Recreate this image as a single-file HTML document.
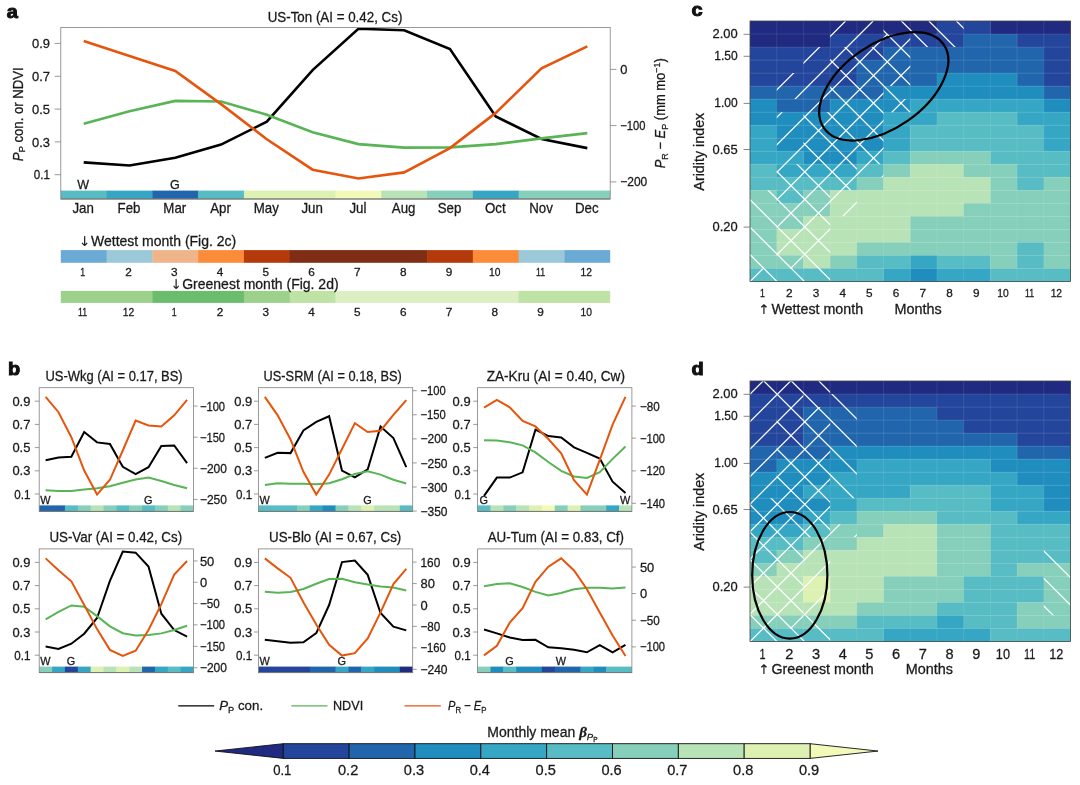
<!DOCTYPE html>
<html lang="en"><head><meta charset="utf-8"><title>Figure 2</title>
<style>html,body{margin:0;padding:0;background:#fff}body{width:1080px;height:785px;overflow:hidden}svg{display:block}text{font-family:"Liberation Sans",sans-serif;fill:#1a1a1a;stroke:#1a1a1a;stroke-width:0.28px}</style></head><body>
<svg width="1080" height="785" viewBox="0 0 1080 785">
<rect x="0" y="0" width="1080" height="785" fill="#fff"/>
<rect x="60.8" y="190.6" width="46.18" height="8.4" fill="#57bcc3"/>
<rect x="106.58" y="190.6" width="46.18" height="8.4" fill="#35a7c4"/>
<rect x="152.37" y="190.6" width="46.18" height="8.4" fill="#2166ac"/>
<rect x="198.15" y="190.6" width="46.18" height="8.4" fill="#57bcc3"/>
<rect x="243.93" y="190.6" width="91.97" height="8.4" fill="#dcf1b2"/>
<rect x="335.5" y="190.6" width="46.18" height="8.4" fill="#f2f9b9"/>
<rect x="381.28" y="190.6" width="46.18" height="8.4" fill="#b8e3b6"/>
<rect x="427.07" y="190.6" width="46.18" height="8.4" fill="#86cfbb"/>
<rect x="472.85" y="190.6" width="46.18" height="8.4" fill="#35a7c4"/>
<rect x="518.63" y="190.6" width="91.57" height="8.4" fill="#86cfbb"/>
<clipPath id="cpa"><rect x="60.8" y="27.4" width="549.4" height="171.6"/></clipPath>
<g clip-path="url(#cpa)">
<polyline points="83.69,162.4 129.48,165.5 175.26,157.8 221.04,144.6 266.83,121.7 312.61,70.1 358.39,28.8 404.18,30.2 449.96,49 495.74,116.4 541.53,139 587.31,148.1" fill="none" stroke="#000" stroke-width="2.6" stroke-linejoin="miter" stroke-linecap="butt"/>
<polyline points="83.69,123.8 129.48,111.2 175.26,100.9 221.04,101.5 266.83,114.7 312.61,132.3 358.39,144.1 404.18,147.6 449.96,147.4 495.74,144.1 541.53,138.4 587.31,133.1" fill="none" stroke="#58b454" stroke-width="2.6" stroke-linejoin="miter" stroke-linecap="butt"/>
<polyline points="83.69,41.1 129.48,56 175.26,71 221.04,104.1 266.83,139.3 312.61,169.7 358.39,178.5 404.18,172.4 449.96,148.1 495.74,112.9 541.53,68.4 587.31,46.4" fill="none" stroke="#e6550d" stroke-width="2.6" stroke-linejoin="miter" stroke-linecap="butt"/>
</g>
<rect x="60.8" y="27.4" width="549.4" height="171.6" fill="none" stroke="#808080" stroke-width="0.8"/>
<line x1="60.8" y1="199" x2="610.2" y2="199" stroke="#777" stroke-width="1.2"/>
<line x1="54.6" y1="43.4" x2="60.8" y2="43.4" stroke="#808080" stroke-width="0.8"/>
<text transform="translate(50 48.1) scale(1.035 1)" font-size="12.5" text-anchor="end">0.9</text>
<line x1="54.6" y1="76.3" x2="60.8" y2="76.3" stroke="#808080" stroke-width="0.8"/>
<text transform="translate(50 81) scale(1.035 1)" font-size="12.5" text-anchor="end">0.7</text>
<line x1="54.6" y1="109.1" x2="60.8" y2="109.1" stroke="#808080" stroke-width="0.8"/>
<text transform="translate(50 113.8) scale(1.035 1)" font-size="12.5" text-anchor="end">0.5</text>
<line x1="54.6" y1="141.9" x2="60.8" y2="141.9" stroke="#808080" stroke-width="0.8"/>
<text transform="translate(50 146.6) scale(1.035 1)" font-size="12.5" text-anchor="end">0.3</text>
<line x1="54.6" y1="174.7" x2="60.8" y2="174.7" stroke="#808080" stroke-width="0.8"/>
<text transform="translate(50 179.4) scale(0.930 1)" font-size="12.5" text-anchor="end">0.1</text>
<line x1="610.2" y1="69.4" x2="616.4" y2="69.4" stroke="#808080" stroke-width="0.8"/>
<text transform="translate(620.2 73.8) scale(1.035 1)" font-size="12.5" text-anchor="start">0</text>
<line x1="610.2" y1="125.6" x2="616.4" y2="125.6" stroke="#808080" stroke-width="0.8"/>
<text transform="translate(620.2 130) scale(0.895 1)" font-size="12.5" text-anchor="start">−100</text>
<line x1="610.2" y1="181.9" x2="616.4" y2="181.9" stroke="#808080" stroke-width="0.8"/>
<text transform="translate(620.2 186.3) scale(0.960 1)" font-size="12.5" text-anchor="start">−200</text>
<text transform="translate(83.19 213) scale(0.950 1)" font-size="14" text-anchor="middle">Jan</text>
<text transform="translate(128.98 213) scale(0.950 1)" font-size="14" text-anchor="middle">Feb</text>
<text transform="translate(174.76 213) scale(0.950 1)" font-size="14" text-anchor="middle">Mar</text>
<text transform="translate(220.54 213) scale(0.950 1)" font-size="14" text-anchor="middle">Apr</text>
<text transform="translate(266.33 213) scale(0.950 1)" font-size="14" text-anchor="middle">May</text>
<text transform="translate(312.11 213) scale(0.950 1)" font-size="14" text-anchor="middle">Jun</text>
<text transform="translate(357.89 213) scale(0.950 1)" font-size="14" text-anchor="middle">Jul</text>
<text transform="translate(403.68 213) scale(0.950 1)" font-size="14" text-anchor="middle">Aug</text>
<text transform="translate(449.46 213) scale(0.950 1)" font-size="14" text-anchor="middle">Sep</text>
<text transform="translate(495.24 213) scale(0.950 1)" font-size="14" text-anchor="middle">Oct</text>
<text transform="translate(541.03 213) scale(0.950 1)" font-size="14" text-anchor="middle">Nov</text>
<text transform="translate(586.81 213) scale(0.950 1)" font-size="14" text-anchor="middle">Dec</text>
<text transform="translate(83.19 189.4) scale(1.000 1)" font-size="12.5" text-anchor="middle">W</text>
<text transform="translate(174.76 189.4) scale(1.000 1)" font-size="12.5" text-anchor="middle">G</text>
<text transform="translate(335 22.3) scale(0.955 1)" font-size="14" text-anchor="middle">US-Ton (AI = 0.42, Cs)</text>
<text transform="translate(22.5,114.2) rotate(-90) scale(0.94 1)" font-size="14" text-anchor="middle"><tspan font-style="italic">P</tspan><tspan font-size="70%" dy="2.5" font-style="normal">P</tspan><tspan dy="-2.5"> con. or NDVI</tspan></text>
<text transform="translate(665.0,113.2) rotate(-90) scale(0.925 1)" font-size="14" text-anchor="middle"><tspan font-style="italic">P</tspan><tspan font-size="70%" dy="2.5" font-style="normal">R</tspan><tspan dy="-2.5"> − </tspan><tspan font-style="italic">E</tspan><tspan font-size="70%" dy="2.5" font-style="normal">P</tspan><tspan dy="-2.5"> (mm mo</tspan><tspan font-size="70%" dy="-5">−1</tspan><tspan dy="5">)</tspan></text>
<text transform="translate(6.7 18.2) scale(1.050 1)" font-size="19" text-anchor="start" font-weight="bold" style="stroke-width:1px;fill:#111;stroke:#111">a</text>
<rect x="60.8" y="250.1" width="46.18" height="12.7" fill="#6aaad5"/>
<rect x="106.58" y="250.1" width="46.18" height="12.7" fill="#9cc9da"/>
<rect x="152.37" y="250.1" width="46.18" height="12.7" fill="#f0b48a"/>
<rect x="198.15" y="250.1" width="46.18" height="12.7" fill="#fc8b3a"/>
<rect x="243.93" y="250.1" width="46.18" height="12.7" fill="#b53a0b"/>
<rect x="289.72" y="250.1" width="137.75" height="12.7" fill="#7f2e15"/>
<rect x="427.07" y="250.1" width="46.18" height="12.7" fill="#b53a0b"/>
<rect x="472.85" y="250.1" width="46.18" height="12.7" fill="#fc8b3a"/>
<rect x="518.63" y="250.1" width="46.18" height="12.7" fill="#9cc9da"/>
<rect x="564.42" y="250.1" width="45.78" height="12.7" fill="#6aaad5"/>
<rect x="60.8" y="290.9" width="91.97" height="12" fill="#9bd18b"/>
<rect x="152.37" y="290.9" width="91.97" height="12" fill="#6bbd6d"/>
<rect x="243.93" y="290.9" width="46.18" height="12" fill="#9bd18b"/>
<rect x="289.72" y="290.9" width="46.18" height="12" fill="#bfe2a5"/>
<rect x="335.5" y="290.9" width="183.53" height="12" fill="#dbefc3"/>
<rect x="518.63" y="290.9" width="91.57" height="12" fill="#bfe2a5"/>
<text transform="translate(82.69 276) scale(0.769 1)" font-size="11.46" text-anchor="middle">1</text>
<text transform="translate(82.69 315.6) scale(0.769 1)" font-size="11.46" text-anchor="middle">11</text>
<text transform="translate(128.48 276) scale(1.030 1)" font-size="11.46" text-anchor="middle">2</text>
<text transform="translate(128.48 315.6) scale(0.899 1)" font-size="11.46" text-anchor="middle">12</text>
<text transform="translate(174.26 276) scale(1.030 1)" font-size="11.46" text-anchor="middle">3</text>
<text transform="translate(174.26 315.6) scale(0.769 1)" font-size="11.46" text-anchor="middle">1</text>
<text transform="translate(220.04 276) scale(1.030 1)" font-size="11.46" text-anchor="middle">4</text>
<text transform="translate(220.04 315.6) scale(1.030 1)" font-size="11.46" text-anchor="middle">2</text>
<text transform="translate(265.83 276) scale(1.030 1)" font-size="11.46" text-anchor="middle">5</text>
<text transform="translate(265.83 315.6) scale(1.030 1)" font-size="11.46" text-anchor="middle">3</text>
<text transform="translate(311.61 276) scale(1.030 1)" font-size="11.46" text-anchor="middle">6</text>
<text transform="translate(311.61 315.6) scale(1.030 1)" font-size="11.46" text-anchor="middle">4</text>
<text transform="translate(357.39 276) scale(1.030 1)" font-size="11.46" text-anchor="middle">7</text>
<text transform="translate(357.39 315.6) scale(1.030 1)" font-size="11.46" text-anchor="middle">5</text>
<text transform="translate(403.18 276) scale(1.030 1)" font-size="11.46" text-anchor="middle">8</text>
<text transform="translate(403.18 315.6) scale(1.030 1)" font-size="11.46" text-anchor="middle">6</text>
<text transform="translate(448.96 276) scale(1.030 1)" font-size="11.46" text-anchor="middle">9</text>
<text transform="translate(448.96 315.6) scale(1.030 1)" font-size="11.46" text-anchor="middle">7</text>
<text transform="translate(494.74 276) scale(0.899 1)" font-size="11.46" text-anchor="middle">10</text>
<text transform="translate(494.74 315.6) scale(1.030 1)" font-size="11.46" text-anchor="middle">8</text>
<text transform="translate(540.53 276) scale(0.769 1)" font-size="11.46" text-anchor="middle">11</text>
<text transform="translate(540.53 315.6) scale(1.030 1)" font-size="11.46" text-anchor="middle">9</text>
<text transform="translate(586.31 276) scale(0.899 1)" font-size="11.46" text-anchor="middle">12</text>
<text transform="translate(586.31 315.6) scale(0.899 1)" font-size="11.46" text-anchor="middle">10</text>
<text transform="translate(78.9 246.4) scale(1.000 1)" font-size="14" text-anchor="start"><tspan font-size="13.5" style="font-family:DejaVu Sans,sans-serif;stroke-width:0.1px">↓ </tspan><tspan x="12.1">Wettest month (Fig. 2c)</tspan></text>
<text transform="translate(170.4 288.6) scale(1.000 1)" font-size="14" text-anchor="start"><tspan font-size="13.5" style="font-family:DejaVu Sans,sans-serif;stroke-width:0.1px">↓ </tspan><tspan x="11.8">Greenest month (Fig. 2d)</tspan></text>
<rect x="39.2" y="505.4" width="26.12" height="6" fill="#2166ac"/>
<rect x="64.92" y="505.4" width="13.26" height="6" fill="#57bcc3"/>
<rect x="77.78" y="505.4" width="13.26" height="6" fill="#86cfbb"/>
<rect x="90.63" y="505.4" width="13.26" height="6" fill="#b8e3b6"/>
<rect x="103.49" y="505.4" width="13.26" height="6" fill="#86cfbb"/>
<rect x="116.35" y="505.4" width="13.26" height="6" fill="#57bcc3"/>
<rect x="129.21" y="505.4" width="13.26" height="6" fill="#86cfbb"/>
<rect x="142.07" y="505.4" width="13.26" height="6" fill="#57bcc3"/>
<rect x="154.93" y="505.4" width="13.26" height="6" fill="#86cfbb"/>
<rect x="167.78" y="505.4" width="13.26" height="6" fill="#b8e3b6"/>
<rect x="180.64" y="505.4" width="12.86" height="6" fill="#86cfbb"/>
<clipPath id="cpb1"><rect x="39.2" y="387.7" width="154.3" height="123.7"/></clipPath>
<g clip-path="url(#cpb1)">
<polyline points="45.63,460.15 58.49,457.56 71.35,456.81 84.2,432 97.06,442.37 109.92,444.04 122.78,466.81 135.64,474.22 148.5,467.19 161.35,446.07 174.21,445.52 187.07,463.11" fill="none" stroke="#000" stroke-width="2.0" stroke-linejoin="miter" stroke-linecap="butt"/>
<polyline points="45.63,490.33 58.49,491.07 71.35,490.89 84.2,489.41 97.06,488.3 109.92,486.26 122.78,482.74 135.64,479.41 148.5,477.56 161.35,481.07 174.21,484.96 187.07,488.3" fill="none" stroke="#58b454" stroke-width="2.0" stroke-linejoin="miter" stroke-linecap="butt"/>
<polyline points="45.63,396.81 58.49,412.19 71.35,437.19 84.2,470.52 97.06,494.59 109.92,479.78 122.78,450.52 135.64,420.52 148.5,425.52 161.35,426.44 174.21,415.33 187.07,399.96" fill="none" stroke="#e6550d" stroke-width="2.0" stroke-linejoin="miter" stroke-linecap="butt"/>
</g>
<rect x="39.2" y="387.7" width="154.3" height="123.7" fill="none" stroke="#808080" stroke-width="0.8"/>
<line x1="39.2" y1="511.4" x2="193.5" y2="511.4" stroke="#777" stroke-width="1.0"/>
<line x1="34.8" y1="401.2" x2="39.2" y2="401.2" stroke="#808080" stroke-width="0.8"/>
<text transform="translate(30.4 405.8) scale(1.035 1)" font-size="12.5" text-anchor="end">0.9</text>
<line x1="34.8" y1="424.4" x2="39.2" y2="424.4" stroke="#808080" stroke-width="0.8"/>
<text transform="translate(30.4 429) scale(1.035 1)" font-size="12.5" text-anchor="end">0.7</text>
<line x1="34.8" y1="447.6" x2="39.2" y2="447.6" stroke="#808080" stroke-width="0.8"/>
<text transform="translate(30.4 452.2) scale(1.035 1)" font-size="12.5" text-anchor="end">0.5</text>
<line x1="34.8" y1="470.8" x2="39.2" y2="470.8" stroke="#808080" stroke-width="0.8"/>
<text transform="translate(30.4 475.4) scale(1.035 1)" font-size="12.5" text-anchor="end">0.3</text>
<line x1="34.8" y1="494" x2="39.2" y2="494" stroke="#808080" stroke-width="0.8"/>
<text transform="translate(30.4 498.6) scale(0.930 1)" font-size="12.5" text-anchor="end">0.1</text>
<line x1="193.5" y1="406.07" x2="197.5" y2="406.07" stroke="#808080" stroke-width="0.8"/>
<text transform="translate(199.9 410.67) scale(0.895 1)" font-size="12.5" text-anchor="start">−100</text>
<line x1="193.5" y1="437.19" x2="197.5" y2="437.19" stroke="#808080" stroke-width="0.8"/>
<text transform="translate(199.9 441.79) scale(0.895 1)" font-size="12.5" text-anchor="start">−150</text>
<line x1="193.5" y1="468.3" x2="197.5" y2="468.3" stroke="#808080" stroke-width="0.8"/>
<text transform="translate(199.9 472.9) scale(0.960 1)" font-size="12.5" text-anchor="start">−200</text>
<line x1="193.5" y1="499.41" x2="197.5" y2="499.41" stroke="#808080" stroke-width="0.8"/>
<text transform="translate(199.9 504.01) scale(0.960 1)" font-size="12.5" text-anchor="start">−250</text>
<text transform="translate(114.1 381.1) scale(0.926 1)" font-size="14" text-anchor="middle">US-Wkg (AI = 0.17, BS)</text>
<text transform="translate(45.33 503.9) scale(1.000 1)" font-size="10.9" text-anchor="middle">W</text>
<text transform="translate(148.2 503.9) scale(1.000 1)" font-size="10.9" text-anchor="middle">G</text>
<rect x="258.4" y="505.4" width="38.98" height="6" fill="#57bcc3"/>
<rect x="296.97" y="505.4" width="13.26" height="6" fill="#86cfbb"/>
<rect x="309.83" y="505.4" width="13.26" height="6" fill="#35a7c4"/>
<rect x="322.69" y="505.4" width="13.26" height="6" fill="#1f8dbe"/>
<rect x="335.55" y="505.4" width="13.26" height="6" fill="#86cfbb"/>
<rect x="348.41" y="505.4" width="13.26" height="6" fill="#b8e3b6"/>
<rect x="361.27" y="505.4" width="13.26" height="6" fill="#dcf1b2"/>
<rect x="374.12" y="505.4" width="26.12" height="6" fill="#b8e3b6"/>
<rect x="399.84" y="505.4" width="12.86" height="6" fill="#57bcc3"/>
<clipPath id="cpb2"><rect x="258.4" y="387.7" width="154.3" height="123.7"/></clipPath>
<g clip-path="url(#cpb2)">
<polyline points="264.83,457.93 277.69,452.74 290.55,453.11 303.4,430.52 316.26,421.81 329.12,416.26 341.98,470.52 354.84,477.37 367.7,469.41 380.55,426.44 393.41,438.11 406.27,467.19" fill="none" stroke="#000" stroke-width="2.0" stroke-linejoin="miter" stroke-linecap="butt"/>
<polyline points="264.83,484.96 277.69,483.3 290.55,483.85 303.4,483.67 316.26,484.22 329.12,483.3 341.98,479.22 354.84,474.04 367.7,471.26 380.55,474.59 393.41,479.78 406.27,483.48" fill="none" stroke="#58b454" stroke-width="2.0" stroke-linejoin="miter" stroke-linecap="butt"/>
<polyline points="264.83,396.81 277.69,415.33 290.55,439.41 303.4,471.81 316.26,494.59 329.12,474.59 341.98,449.04 354.84,423.11 367.7,432 380.55,430.7 393.41,414.96 406.27,400.15" fill="none" stroke="#e6550d" stroke-width="2.0" stroke-linejoin="miter" stroke-linecap="butt"/>
</g>
<rect x="258.4" y="387.7" width="154.3" height="123.7" fill="none" stroke="#808080" stroke-width="0.8"/>
<line x1="258.4" y1="511.4" x2="412.7" y2="511.4" stroke="#777" stroke-width="1.0"/>
<line x1="254" y1="401.2" x2="258.4" y2="401.2" stroke="#808080" stroke-width="0.8"/>
<text transform="translate(252.2 405.8) scale(1.035 1)" font-size="12.5" text-anchor="end">0.9</text>
<line x1="254" y1="424.4" x2="258.4" y2="424.4" stroke="#808080" stroke-width="0.8"/>
<text transform="translate(252.2 429) scale(1.035 1)" font-size="12.5" text-anchor="end">0.7</text>
<line x1="254" y1="447.6" x2="258.4" y2="447.6" stroke="#808080" stroke-width="0.8"/>
<text transform="translate(252.2 452.2) scale(1.035 1)" font-size="12.5" text-anchor="end">0.5</text>
<line x1="254" y1="470.8" x2="258.4" y2="470.8" stroke="#808080" stroke-width="0.8"/>
<text transform="translate(252.2 475.4) scale(1.035 1)" font-size="12.5" text-anchor="end">0.3</text>
<line x1="254" y1="494" x2="258.4" y2="494" stroke="#808080" stroke-width="0.8"/>
<text transform="translate(252.2 498.6) scale(0.930 1)" font-size="12.5" text-anchor="end">0.1</text>
<line x1="412.7" y1="390.7" x2="416.7" y2="390.7" stroke="#808080" stroke-width="0.8"/>
<text transform="translate(420.5 395.3) scale(0.895 1)" font-size="12.5" text-anchor="start">−100</text>
<line x1="412.7" y1="414.78" x2="416.7" y2="414.78" stroke="#808080" stroke-width="0.8"/>
<text transform="translate(420.5 419.38) scale(0.895 1)" font-size="12.5" text-anchor="start">−150</text>
<line x1="412.7" y1="438.85" x2="416.7" y2="438.85" stroke="#808080" stroke-width="0.8"/>
<text transform="translate(420.5 443.45) scale(0.960 1)" font-size="12.5" text-anchor="start">−200</text>
<line x1="412.7" y1="462.93" x2="416.7" y2="462.93" stroke="#808080" stroke-width="0.8"/>
<text transform="translate(420.5 467.53) scale(0.960 1)" font-size="12.5" text-anchor="start">−250</text>
<line x1="412.7" y1="487" x2="416.7" y2="487" stroke="#808080" stroke-width="0.8"/>
<text transform="translate(420.5 491.6) scale(0.960 1)" font-size="12.5" text-anchor="start">−300</text>
<line x1="412.7" y1="511.07" x2="416.7" y2="511.07" stroke="#808080" stroke-width="0.8"/>
<text transform="translate(420.5 515.67) scale(0.960 1)" font-size="12.5" text-anchor="start">−350</text>
<text transform="translate(332.7 381.1) scale(0.914 1)" font-size="14" text-anchor="middle">US-SRM (AI = 0.18, BS)</text>
<text transform="translate(264.53 503.9) scale(1.000 1)" font-size="10.9" text-anchor="middle">W</text>
<text transform="translate(367.4 503.9) scale(1.000 1)" font-size="10.9" text-anchor="middle">G</text>
<rect x="477.6" y="505.4" width="13.26" height="6" fill="#57bcc3"/>
<rect x="490.46" y="505.4" width="13.26" height="6" fill="#b8e3b6"/>
<rect x="503.32" y="505.4" width="13.26" height="6" fill="#86cfbb"/>
<rect x="516.18" y="505.4" width="13.26" height="6" fill="#b8e3b6"/>
<rect x="529.03" y="505.4" width="13.26" height="6" fill="#dcf1b2"/>
<rect x="541.89" y="505.4" width="13.26" height="6" fill="#f2f9b9"/>
<rect x="554.75" y="505.4" width="13.26" height="6" fill="#86cfbb"/>
<rect x="567.61" y="505.4" width="13.26" height="6" fill="#dcf1b2"/>
<rect x="580.47" y="505.4" width="26.12" height="6" fill="#86cfbb"/>
<rect x="606.18" y="505.4" width="13.26" height="6" fill="#35a7c4"/>
<rect x="619.04" y="505.4" width="12.86" height="6" fill="#b8e3b6"/>
<clipPath id="cpb3"><rect x="477.6" y="387.7" width="154.3" height="123.7"/></clipPath>
<g clip-path="url(#cpb3)">
<polyline points="484.03,495.89 496.89,477.56 509.75,477.56 522.6,472.37 535.46,429.59 548.32,436.07 561.18,437.56 574.04,447.37 586.9,452.93 599.75,458.48 612.61,481.63 625.47,493.11" fill="none" stroke="#000" stroke-width="2.0" stroke-linejoin="miter" stroke-linecap="butt"/>
<polyline points="484.03,440.15 496.89,440.52 509.75,442.19 522.6,445.33 535.46,452.37 548.32,462 561.18,470.89 574.04,476.44 586.9,477.93 599.75,472.19 612.61,458.85 625.47,446.44" fill="none" stroke="#58b454" stroke-width="2.0" stroke-linejoin="miter" stroke-linecap="butt"/>
<polyline points="484.03,407.56 496.89,399.96 509.75,407.37 522.6,420.89 535.46,426.44 548.32,439.04 561.18,453.3 574.04,480.15 586.9,494.59 599.75,459.78 612.61,424.59 625.47,396.81" fill="none" stroke="#e6550d" stroke-width="2.0" stroke-linejoin="miter" stroke-linecap="butt"/>
</g>
<rect x="477.6" y="387.7" width="154.3" height="123.7" fill="none" stroke="#808080" stroke-width="0.8"/>
<line x1="477.6" y1="511.4" x2="631.9" y2="511.4" stroke="#777" stroke-width="1.0"/>
<line x1="473.2" y1="401.2" x2="477.6" y2="401.2" stroke="#808080" stroke-width="0.8"/>
<text transform="translate(470.6 405.8) scale(1.035 1)" font-size="12.5" text-anchor="end">0.9</text>
<line x1="473.2" y1="424.4" x2="477.6" y2="424.4" stroke="#808080" stroke-width="0.8"/>
<text transform="translate(470.6 429) scale(1.035 1)" font-size="12.5" text-anchor="end">0.7</text>
<line x1="473.2" y1="447.6" x2="477.6" y2="447.6" stroke="#808080" stroke-width="0.8"/>
<text transform="translate(470.6 452.2) scale(1.035 1)" font-size="12.5" text-anchor="end">0.5</text>
<line x1="473.2" y1="470.8" x2="477.6" y2="470.8" stroke="#808080" stroke-width="0.8"/>
<text transform="translate(470.6 475.4) scale(1.035 1)" font-size="12.5" text-anchor="end">0.3</text>
<line x1="473.2" y1="494" x2="477.6" y2="494" stroke="#808080" stroke-width="0.8"/>
<text transform="translate(470.6 498.6) scale(0.930 1)" font-size="12.5" text-anchor="end">0.1</text>
<line x1="631.9" y1="406.07" x2="635.9" y2="406.07" stroke="#808080" stroke-width="0.8"/>
<text transform="translate(639.9 410.67) scale(0.935 1)" font-size="12.5" text-anchor="start">−80</text>
<line x1="631.9" y1="438.11" x2="635.9" y2="438.11" stroke="#808080" stroke-width="0.8"/>
<text transform="translate(639.9 442.71) scale(0.895 1)" font-size="12.5" text-anchor="start">−100</text>
<line x1="631.9" y1="470.89" x2="635.9" y2="470.89" stroke="#808080" stroke-width="0.8"/>
<text transform="translate(639.9 475.49) scale(0.895 1)" font-size="12.5" text-anchor="start">−120</text>
<line x1="631.9" y1="503.3" x2="635.9" y2="503.3" stroke="#808080" stroke-width="0.8"/>
<text transform="translate(639.9 507.9) scale(0.895 1)" font-size="12.5" text-anchor="start">−140</text>
<text transform="translate(555.8 381.1) scale(0.975 1)" font-size="14" text-anchor="middle">ZA-Kru (AI = 0.40, Cw)</text>
<text transform="translate(483.73 503.9) scale(1.000 1)" font-size="10.9" text-anchor="middle">G</text>
<text transform="translate(625.17 503.9) scale(1.000 1)" font-size="10.9" text-anchor="middle">W</text>
<rect x="39.2" y="666.6" width="13.26" height="6" fill="#86cfbb"/>
<rect x="52.06" y="666.6" width="13.26" height="6" fill="#35a7c4"/>
<rect x="64.92" y="666.6" width="13.26" height="6" fill="#24459c"/>
<rect x="77.78" y="666.6" width="13.26" height="6" fill="#35a7c4"/>
<rect x="90.63" y="666.6" width="13.26" height="6" fill="#dcf1b2"/>
<rect x="103.49" y="666.6" width="13.26" height="6" fill="#b8e3b6"/>
<rect x="116.35" y="666.6" width="13.26" height="6" fill="#dcf1b2"/>
<rect x="129.21" y="666.6" width="13.26" height="6" fill="#b8e3b6"/>
<rect x="142.07" y="666.6" width="13.26" height="6" fill="#2166ac"/>
<rect x="154.93" y="666.6" width="13.26" height="6" fill="#35a7c4"/>
<rect x="167.78" y="666.6" width="13.26" height="6" fill="#57bcc3"/>
<rect x="180.64" y="666.6" width="12.86" height="6" fill="#35a7c4"/>
<clipPath id="cpb4"><rect x="39.2" y="548.9" width="154.3" height="123.7"/></clipPath>
<g clip-path="url(#cpb4)">
<polyline points="45.63,646.52 58.49,648.93 71.35,643.74 84.2,633.74 97.06,618 109.92,580.96 122.78,551.52 135.64,552.63 148.5,566.52 161.35,613.74 174.21,630.04 187.07,636.52" fill="none" stroke="#000" stroke-width="2.0" stroke-linejoin="miter" stroke-linecap="butt"/>
<polyline points="45.63,619.48 58.49,611.89 71.35,605.41 84.2,606.7 97.06,616.15 109.92,626.33 122.78,633.19 135.64,635.59 148.5,635.04 161.35,633.37 174.21,630.04 187.07,625.78" fill="none" stroke="#58b454" stroke-width="2.0" stroke-linejoin="miter" stroke-linecap="butt"/>
<polyline points="45.63,558.37 58.49,570.22 71.35,581.33 84.2,605.04 97.06,629.11 109.92,649.85 122.78,655.96 135.64,650.78 148.5,630.04 161.35,604.11 174.21,574.48 187.07,560.96" fill="none" stroke="#e6550d" stroke-width="2.0" stroke-linejoin="miter" stroke-linecap="butt"/>
</g>
<rect x="39.2" y="548.9" width="154.3" height="123.7" fill="none" stroke="#808080" stroke-width="0.8"/>
<line x1="39.2" y1="672.6" x2="193.5" y2="672.6" stroke="#777" stroke-width="1.0"/>
<line x1="34.8" y1="562.4" x2="39.2" y2="562.4" stroke="#808080" stroke-width="0.8"/>
<text transform="translate(30.4 567) scale(1.035 1)" font-size="12.5" text-anchor="end">0.9</text>
<line x1="34.8" y1="585.6" x2="39.2" y2="585.6" stroke="#808080" stroke-width="0.8"/>
<text transform="translate(30.4 590.2) scale(1.035 1)" font-size="12.5" text-anchor="end">0.7</text>
<line x1="34.8" y1="608.8" x2="39.2" y2="608.8" stroke="#808080" stroke-width="0.8"/>
<text transform="translate(30.4 613.4) scale(1.035 1)" font-size="12.5" text-anchor="end">0.5</text>
<line x1="34.8" y1="632" x2="39.2" y2="632" stroke="#808080" stroke-width="0.8"/>
<text transform="translate(30.4 636.6) scale(1.035 1)" font-size="12.5" text-anchor="end">0.3</text>
<line x1="34.8" y1="655.2" x2="39.2" y2="655.2" stroke="#808080" stroke-width="0.8"/>
<text transform="translate(30.4 659.8) scale(0.930 1)" font-size="12.5" text-anchor="end">0.1</text>
<line x1="193.5" y1="560.96" x2="197.5" y2="560.96" stroke="#808080" stroke-width="0.8"/>
<text transform="translate(199.9 565.56) scale(1.035 1)" font-size="12.5" text-anchor="start">50</text>
<line x1="193.5" y1="582.26" x2="197.5" y2="582.26" stroke="#808080" stroke-width="0.8"/>
<text transform="translate(199.9 586.86) scale(1.035 1)" font-size="12.5" text-anchor="start">0</text>
<line x1="193.5" y1="603.56" x2="197.5" y2="603.56" stroke="#808080" stroke-width="0.8"/>
<text transform="translate(199.9 608.16) scale(0.935 1)" font-size="12.5" text-anchor="start">−50</text>
<line x1="193.5" y1="624.85" x2="197.5" y2="624.85" stroke="#808080" stroke-width="0.8"/>
<text transform="translate(199.9 629.45) scale(0.895 1)" font-size="12.5" text-anchor="start">−100</text>
<line x1="193.5" y1="646.33" x2="197.5" y2="646.33" stroke="#808080" stroke-width="0.8"/>
<text transform="translate(199.9 650.93) scale(0.895 1)" font-size="12.5" text-anchor="start">−150</text>
<line x1="193.5" y1="667.81" x2="197.5" y2="667.81" stroke="#808080" stroke-width="0.8"/>
<text transform="translate(199.9 672.41) scale(0.960 1)" font-size="12.5" text-anchor="start">−200</text>
<text transform="translate(115.75 542.3) scale(0.953 1)" font-size="14" text-anchor="middle">US-Var (AI = 0.42, Cs)</text>
<text transform="translate(45.33 665.1) scale(1.000 1)" font-size="10.9" text-anchor="middle">W</text>
<text transform="translate(71.05 665.1) scale(1.000 1)" font-size="10.9" text-anchor="middle">G</text>
<rect x="258.4" y="666.6" width="51.83" height="6" fill="#24459c"/>
<rect x="309.83" y="666.6" width="26.12" height="6" fill="#2166ac"/>
<rect x="335.55" y="666.6" width="13.26" height="6" fill="#35a7c4"/>
<rect x="348.41" y="666.6" width="13.26" height="6" fill="#2166ac"/>
<rect x="361.27" y="666.6" width="13.26" height="6" fill="#35a7c4"/>
<rect x="374.12" y="666.6" width="26.12" height="6" fill="#1f8dbe"/>
<rect x="399.84" y="666.6" width="12.86" height="6" fill="#1f2a80"/>
<clipPath id="cpb5"><rect x="258.4" y="548.9" width="154.3" height="123.7"/></clipPath>
<g clip-path="url(#cpb5)">
<polyline points="264.83,639.67 277.69,641.15 290.55,642.81 303.4,642.26 316.26,633.19 329.12,605.04 341.98,562.07 354.84,560.59 367.7,574.85 380.55,613 393.41,626.7 406.27,630.41" fill="none" stroke="#000" stroke-width="2.0" stroke-linejoin="miter" stroke-linecap="butt"/>
<polyline points="264.83,591.7 277.69,592.63 290.55,591.89 303.4,588.93 316.26,583.74 329.12,579.11 341.98,578.74 354.84,582.26 367.7,584.48 380.55,586.52 393.41,587.44 406.27,590.41" fill="none" stroke="#58b454" stroke-width="2.0" stroke-linejoin="miter" stroke-linecap="butt"/>
<polyline points="264.83,558.37 277.69,568.37 290.55,577.81 303.4,602.26 316.26,624.48 329.12,644.85 341.98,655.59 354.84,653.19 367.7,638.37 380.55,612.44 393.41,584.11 406.27,568.93" fill="none" stroke="#e6550d" stroke-width="2.0" stroke-linejoin="miter" stroke-linecap="butt"/>
</g>
<rect x="258.4" y="548.9" width="154.3" height="123.7" fill="none" stroke="#808080" stroke-width="0.8"/>
<line x1="258.4" y1="672.6" x2="412.7" y2="672.6" stroke="#777" stroke-width="1.0"/>
<line x1="254" y1="562.4" x2="258.4" y2="562.4" stroke="#808080" stroke-width="0.8"/>
<text transform="translate(252.2 567) scale(1.035 1)" font-size="12.5" text-anchor="end">0.9</text>
<line x1="254" y1="585.6" x2="258.4" y2="585.6" stroke="#808080" stroke-width="0.8"/>
<text transform="translate(252.2 590.2) scale(1.035 1)" font-size="12.5" text-anchor="end">0.7</text>
<line x1="254" y1="608.8" x2="258.4" y2="608.8" stroke="#808080" stroke-width="0.8"/>
<text transform="translate(252.2 613.4) scale(1.035 1)" font-size="12.5" text-anchor="end">0.5</text>
<line x1="254" y1="632" x2="258.4" y2="632" stroke="#808080" stroke-width="0.8"/>
<text transform="translate(252.2 636.6) scale(1.035 1)" font-size="12.5" text-anchor="end">0.3</text>
<line x1="254" y1="655.2" x2="258.4" y2="655.2" stroke="#808080" stroke-width="0.8"/>
<text transform="translate(252.2 659.8) scale(0.930 1)" font-size="12.5" text-anchor="end">0.1</text>
<line x1="412.7" y1="562.07" x2="416.7" y2="562.07" stroke="#808080" stroke-width="0.8"/>
<text transform="translate(420.5 566.67) scale(0.947 1)" font-size="12.5" text-anchor="start">160</text>
<line x1="412.7" y1="583.56" x2="416.7" y2="583.56" stroke="#808080" stroke-width="0.8"/>
<text transform="translate(420.5 588.16) scale(1.035 1)" font-size="12.5" text-anchor="start">80</text>
<line x1="412.7" y1="605.04" x2="416.7" y2="605.04" stroke="#808080" stroke-width="0.8"/>
<text transform="translate(420.5 609.64) scale(1.035 1)" font-size="12.5" text-anchor="start">0</text>
<line x1="412.7" y1="626.33" x2="416.7" y2="626.33" stroke="#808080" stroke-width="0.8"/>
<text transform="translate(420.5 630.93) scale(0.935 1)" font-size="12.5" text-anchor="start">−80</text>
<line x1="412.7" y1="647.81" x2="416.7" y2="647.81" stroke="#808080" stroke-width="0.8"/>
<text transform="translate(420.5 652.41) scale(0.895 1)" font-size="12.5" text-anchor="start">−160</text>
<line x1="412.7" y1="669.3" x2="416.7" y2="669.3" stroke="#808080" stroke-width="0.8"/>
<text transform="translate(420.5 673.9) scale(0.960 1)" font-size="12.5" text-anchor="start">−240</text>
<text transform="translate(335.15 542.3) scale(0.953 1)" font-size="14" text-anchor="middle">US-Blo (AI = 0.67, Cs)</text>
<text transform="translate(264.53 665.1) scale(1.000 1)" font-size="10.9" text-anchor="middle">W</text>
<text transform="translate(341.68 665.1) scale(1.000 1)" font-size="10.9" text-anchor="middle">G</text>
<rect x="477.6" y="666.6" width="13.26" height="6" fill="#86cfbb"/>
<rect x="490.46" y="666.6" width="13.26" height="6" fill="#1f8dbe"/>
<rect x="503.32" y="666.6" width="13.26" height="6" fill="#57bcc3"/>
<rect x="516.18" y="666.6" width="26.12" height="6" fill="#1f8dbe"/>
<rect x="541.89" y="666.6" width="13.26" height="6" fill="#24459c"/>
<rect x="554.75" y="666.6" width="26.12" height="6" fill="#2166ac"/>
<rect x="580.47" y="666.6" width="13.26" height="6" fill="#35a7c4"/>
<rect x="593.33" y="666.6" width="13.26" height="6" fill="#1f8dbe"/>
<rect x="606.18" y="666.6" width="25.72" height="6" fill="#57bcc3"/>
<clipPath id="cpb6"><rect x="477.6" y="548.9" width="154.3" height="123.7"/></clipPath>
<g clip-path="url(#cpb6)">
<polyline points="484.03,629.48 496.89,633.37 509.75,637.44 522.6,640.04 535.46,639.85 548.32,647.26 561.18,648.19 574.04,649.85 586.9,652.26 599.75,645.22 612.61,652.26 625.47,644.85" fill="none" stroke="#000" stroke-width="2.0" stroke-linejoin="miter" stroke-linecap="butt"/>
<polyline points="484.03,586.15 496.89,584.11 509.75,583.37 522.6,587.07 535.46,591.89 548.32,595.41 561.18,593 574.04,589.3 586.9,587.81 599.75,587.63 612.61,588.56 625.47,587.44" fill="none" stroke="#58b454" stroke-width="2.0" stroke-linejoin="miter" stroke-linecap="butt"/>
<polyline points="484.03,655.41 496.89,645.78 509.75,622.63 522.6,608.19 535.46,581.89 548.32,566.7 561.18,558.37 574.04,570.41 586.9,589.3 599.75,612.44 612.61,635.59 625.47,655.96" fill="none" stroke="#e6550d" stroke-width="2.0" stroke-linejoin="miter" stroke-linecap="butt"/>
</g>
<rect x="477.6" y="548.9" width="154.3" height="123.7" fill="none" stroke="#808080" stroke-width="0.8"/>
<line x1="477.6" y1="672.6" x2="631.9" y2="672.6" stroke="#777" stroke-width="1.0"/>
<line x1="473.2" y1="562.4" x2="477.6" y2="562.4" stroke="#808080" stroke-width="0.8"/>
<text transform="translate(470.6 567) scale(1.035 1)" font-size="12.5" text-anchor="end">0.9</text>
<line x1="473.2" y1="585.6" x2="477.6" y2="585.6" stroke="#808080" stroke-width="0.8"/>
<text transform="translate(470.6 590.2) scale(1.035 1)" font-size="12.5" text-anchor="end">0.7</text>
<line x1="473.2" y1="608.8" x2="477.6" y2="608.8" stroke="#808080" stroke-width="0.8"/>
<text transform="translate(470.6 613.4) scale(1.035 1)" font-size="12.5" text-anchor="end">0.5</text>
<line x1="473.2" y1="632" x2="477.6" y2="632" stroke="#808080" stroke-width="0.8"/>
<text transform="translate(470.6 636.6) scale(1.035 1)" font-size="12.5" text-anchor="end">0.3</text>
<line x1="473.2" y1="655.2" x2="477.6" y2="655.2" stroke="#808080" stroke-width="0.8"/>
<text transform="translate(470.6 659.8) scale(0.930 1)" font-size="12.5" text-anchor="end">0.1</text>
<line x1="631.9" y1="567.07" x2="635.9" y2="567.07" stroke="#808080" stroke-width="0.8"/>
<text transform="translate(639.9 571.67) scale(1.035 1)" font-size="12.5" text-anchor="start">50</text>
<line x1="631.9" y1="593.56" x2="635.9" y2="593.56" stroke="#808080" stroke-width="0.8"/>
<text transform="translate(639.9 598.16) scale(1.035 1)" font-size="12.5" text-anchor="start">0</text>
<line x1="631.9" y1="620.22" x2="635.9" y2="620.22" stroke="#808080" stroke-width="0.8"/>
<text transform="translate(639.9 624.82) scale(0.935 1)" font-size="12.5" text-anchor="start">−50</text>
<line x1="631.9" y1="646.89" x2="635.9" y2="646.89" stroke="#808080" stroke-width="0.8"/>
<text transform="translate(639.9 651.49) scale(0.895 1)" font-size="12.5" text-anchor="start">−100</text>
<text transform="translate(555.85 542.3) scale(0.954 1)" font-size="14" text-anchor="middle">AU-Tum (AI = 0.83, Cf)</text>
<text transform="translate(509.45 665.1) scale(1.000 1)" font-size="10.9" text-anchor="middle">G</text>
<text transform="translate(560.88 665.1) scale(1.000 1)" font-size="10.9" text-anchor="middle">W</text>
<text transform="translate(8 375.3) scale(1.050 1)" font-size="19" text-anchor="start" font-weight="bold" style="stroke-width:1px;fill:#111;stroke:#111">b</text>
<line x1="178.3" y1="705.8" x2="214.2" y2="705.8" stroke="#000" stroke-width="1.35"/>
<text transform="translate(219.2 710.2) scale(1.0 1)" font-size="13.3"><tspan font-style="italic">P</tspan><tspan font-size="70%" dy="2.5" font-style="normal">P</tspan><tspan dy="-2.5"> con.</tspan></text>
<line x1="291.3" y1="705.8" x2="327.5" y2="705.8" stroke="#58b454" stroke-width="1.35"/>
<text transform="translate(333 710.4) scale(0.950 1)" font-size="13.3" text-anchor="start">NDVI</text>
<line x1="404.5" y1="705.8" x2="440.8" y2="705.8" stroke="#e6550d" stroke-width="1.35"/>
<text transform="translate(448.0 710.2) scale(0.84 1)" font-size="13.3"><tspan font-style="italic">P</tspan><tspan font-size="70%" dy="2.5" font-style="normal">R</tspan><tspan dy="-2.5"> − </tspan><tspan font-style="italic">E</tspan><tspan font-size="70%" dy="2.5" font-style="normal">P</tspan></text>
<polygon points="283.3,743.7 215,751.05 283.3,758.4" fill="#1f2a80" stroke="#111" stroke-width="0.9" stroke-linejoin="miter"/>
<polygon points="810.02,743.7 878,751.05 810.02,758.4" fill="#f2f9b9" stroke="#111" stroke-width="0.9"/>
<rect x="283.3" y="743.7" width="65.84" height="14.7" fill="#24459c" stroke="#111" stroke-width="0.9"/>
<rect x="349.14" y="743.7" width="65.84" height="14.7" fill="#2166ac" stroke="#111" stroke-width="0.9"/>
<rect x="414.98" y="743.7" width="65.84" height="14.7" fill="#1f8dbe" stroke="#111" stroke-width="0.9"/>
<rect x="480.82" y="743.7" width="65.84" height="14.7" fill="#35a7c4" stroke="#111" stroke-width="0.9"/>
<rect x="546.66" y="743.7" width="65.84" height="14.7" fill="#57bcc3" stroke="#111" stroke-width="0.9"/>
<rect x="612.5" y="743.7" width="65.84" height="14.7" fill="#86cfbb" stroke="#111" stroke-width="0.9"/>
<rect x="678.34" y="743.7" width="65.84" height="14.7" fill="#b8e3b6" stroke="#111" stroke-width="0.9"/>
<rect x="744.18" y="743.7" width="65.84" height="14.7" fill="#dcf1b2" stroke="#111" stroke-width="0.9"/>
<text transform="translate(282.3 774.8) scale(0.898 1)" font-size="14.58" text-anchor="middle">0.1</text>
<text transform="translate(348.14 774.8) scale(1.000 1)" font-size="14.58" text-anchor="middle">0.2</text>
<text transform="translate(413.98 774.8) scale(1.000 1)" font-size="14.58" text-anchor="middle">0.3</text>
<text transform="translate(479.82 774.8) scale(1.000 1)" font-size="14.58" text-anchor="middle">0.4</text>
<text transform="translate(545.66 774.8) scale(1.000 1)" font-size="14.58" text-anchor="middle">0.5</text>
<text transform="translate(611.5 774.8) scale(1.000 1)" font-size="14.58" text-anchor="middle">0.6</text>
<text transform="translate(677.34 774.8) scale(1.000 1)" font-size="14.58" text-anchor="middle">0.7</text>
<text transform="translate(743.18 774.8) scale(1.000 1)" font-size="14.58" text-anchor="middle">0.8</text>
<text transform="translate(809.02 774.8) scale(1.000 1)" font-size="14.58" text-anchor="middle">0.9</text>
<text transform="translate(487.3 737.3) scale(1.0 1)" font-size="14" text-anchor="start">Monthly mean <tspan font-style="italic" font-weight="bold" font-family="Liberation Serif, serif" font-size="15">β</tspan><tspan font-size="9.5" dy="3" font-style="italic">P</tspan><tspan font-size="6.5" dy="1.5">P</tspan></text>
<rect x="750" y="21" width="187.26" height="13.32" fill="#1f2a80"/>
<rect x="936.96" y="21" width="53.72" height="13.32" fill="#24459c"/>
<rect x="990.38" y="21" width="80.42" height="13.32" fill="#1f2a80"/>
<rect x="750" y="34.02" width="80.42" height="13.32" fill="#1f2a80"/>
<rect x="830.12" y="34.02" width="133.84" height="13.32" fill="#24459c"/>
<rect x="963.67" y="34.02" width="53.72" height="13.32" fill="#2166ac"/>
<rect x="1017.08" y="34.02" width="53.72" height="13.32" fill="#24459c"/>
<rect x="750" y="47.04" width="133.84" height="13.32" fill="#24459c"/>
<rect x="883.54" y="47.04" width="160.55" height="13.32" fill="#2166ac"/>
<rect x="1043.79" y="47.04" width="27.01" height="13.32" fill="#24459c"/>
<rect x="750" y="60.06" width="107.13" height="13.32" fill="#24459c"/>
<rect x="856.83" y="60.06" width="187.26" height="13.32" fill="#2166ac"/>
<rect x="1043.79" y="60.06" width="27.01" height="13.32" fill="#24459c"/>
<rect x="750" y="73.08" width="107.13" height="13.32" fill="#24459c"/>
<rect x="856.83" y="73.08" width="80.42" height="13.32" fill="#2166ac"/>
<rect x="936.96" y="73.08" width="80.42" height="13.32" fill="#1f8dbe"/>
<rect x="1017.08" y="73.08" width="27.01" height="13.32" fill="#2166ac"/>
<rect x="1043.79" y="73.08" width="27.01" height="13.32" fill="#24459c"/>
<rect x="750" y="86.1" width="133.84" height="13.32" fill="#2166ac"/>
<rect x="883.54" y="86.1" width="160.55" height="13.32" fill="#1f8dbe"/>
<rect x="1043.79" y="86.1" width="27.01" height="13.32" fill="#2166ac"/>
<rect x="750" y="99.12" width="27.01" height="13.32" fill="#1f8dbe"/>
<rect x="776.71" y="99.12" width="53.72" height="13.32" fill="#2166ac"/>
<rect x="830.12" y="99.12" width="80.42" height="13.32" fill="#1f8dbe"/>
<rect x="910.25" y="99.12" width="133.84" height="13.32" fill="#35a7c4"/>
<rect x="1043.79" y="99.12" width="27.01" height="13.32" fill="#1f8dbe"/>
<rect x="750" y="112.14" width="133.84" height="13.32" fill="#1f8dbe"/>
<rect x="883.54" y="112.14" width="53.72" height="13.32" fill="#35a7c4"/>
<rect x="936.96" y="112.14" width="80.42" height="13.32" fill="#57bcc3"/>
<rect x="1017.08" y="112.14" width="53.72" height="13.32" fill="#35a7c4"/>
<rect x="750" y="125.16" width="27.01" height="13.32" fill="#35a7c4"/>
<rect x="776.71" y="125.16" width="107.13" height="13.32" fill="#1f8dbe"/>
<rect x="883.54" y="125.16" width="27.01" height="13.32" fill="#35a7c4"/>
<rect x="910.25" y="125.16" width="133.84" height="13.32" fill="#57bcc3"/>
<rect x="1043.79" y="125.16" width="27.01" height="13.32" fill="#35a7c4"/>
<rect x="750" y="138.18" width="27.01" height="13.32" fill="#35a7c4"/>
<rect x="776.71" y="138.18" width="107.13" height="13.32" fill="#1f8dbe"/>
<rect x="883.54" y="138.18" width="27.01" height="13.32" fill="#35a7c4"/>
<rect x="910.25" y="138.18" width="133.84" height="13.32" fill="#57bcc3"/>
<rect x="1043.79" y="138.18" width="27.01" height="13.32" fill="#35a7c4"/>
<rect x="750" y="151.2" width="53.72" height="13.32" fill="#35a7c4"/>
<rect x="803.42" y="151.2" width="53.72" height="13.32" fill="#1f8dbe"/>
<rect x="856.83" y="151.2" width="27.01" height="13.32" fill="#35a7c4"/>
<rect x="883.54" y="151.2" width="27.01" height="13.32" fill="#57bcc3"/>
<rect x="910.25" y="151.2" width="80.42" height="13.32" fill="#86cfbb"/>
<rect x="990.38" y="151.2" width="80.42" height="13.32" fill="#57bcc3"/>
<rect x="750" y="164.22" width="27.01" height="13.32" fill="#57bcc3"/>
<rect x="776.71" y="164.22" width="80.42" height="13.32" fill="#35a7c4"/>
<rect x="856.83" y="164.22" width="27.01" height="13.32" fill="#57bcc3"/>
<rect x="883.54" y="164.22" width="27.01" height="13.32" fill="#86cfbb"/>
<rect x="910.25" y="164.22" width="53.72" height="13.32" fill="#b8e3b6"/>
<rect x="963.67" y="164.22" width="53.72" height="13.32" fill="#86cfbb"/>
<rect x="1017.08" y="164.22" width="53.72" height="13.32" fill="#57bcc3"/>
<rect x="750" y="177.24" width="107.13" height="13.32" fill="#57bcc3"/>
<rect x="856.83" y="177.24" width="27.01" height="13.32" fill="#86cfbb"/>
<rect x="883.54" y="177.24" width="107.13" height="13.32" fill="#b8e3b6"/>
<rect x="990.38" y="177.24" width="27.01" height="13.32" fill="#86cfbb"/>
<rect x="1017.08" y="177.24" width="27.01" height="13.32" fill="#57bcc3"/>
<rect x="1043.79" y="177.24" width="27.01" height="13.32" fill="#86cfbb"/>
<rect x="750" y="190.26" width="27.01" height="13.32" fill="#86cfbb"/>
<rect x="776.71" y="190.26" width="27.01" height="13.32" fill="#57bcc3"/>
<rect x="803.42" y="190.26" width="27.01" height="13.32" fill="#86cfbb"/>
<rect x="830.12" y="190.26" width="160.55" height="13.32" fill="#b8e3b6"/>
<rect x="990.38" y="190.26" width="80.42" height="13.32" fill="#86cfbb"/>
<rect x="750" y="203.28" width="80.42" height="13.32" fill="#86cfbb"/>
<rect x="830.12" y="203.28" width="133.84" height="13.32" fill="#b8e3b6"/>
<rect x="963.67" y="203.28" width="107.13" height="13.32" fill="#86cfbb"/>
<rect x="750" y="216.3" width="53.72" height="13.32" fill="#86cfbb"/>
<rect x="803.42" y="216.3" width="107.13" height="13.32" fill="#b8e3b6"/>
<rect x="910.25" y="216.3" width="160.55" height="13.32" fill="#86cfbb"/>
<rect x="750" y="229.32" width="27.01" height="13.32" fill="#86cfbb"/>
<rect x="776.71" y="229.32" width="133.84" height="13.32" fill="#b8e3b6"/>
<rect x="910.25" y="229.32" width="160.55" height="13.32" fill="#86cfbb"/>
<rect x="750" y="242.34" width="27.01" height="13.32" fill="#86cfbb"/>
<rect x="776.71" y="242.34" width="80.42" height="13.32" fill="#b8e3b6"/>
<rect x="856.83" y="242.34" width="160.55" height="13.32" fill="#86cfbb"/>
<rect x="1017.08" y="242.34" width="27.01" height="13.32" fill="#57bcc3"/>
<rect x="1043.79" y="242.34" width="27.01" height="13.32" fill="#86cfbb"/>
<rect x="750" y="255.36" width="53.72" height="13.32" fill="#86cfbb"/>
<rect x="803.42" y="255.36" width="27.01" height="13.32" fill="#b8e3b6"/>
<rect x="830.12" y="255.36" width="27.01" height="13.32" fill="#86cfbb"/>
<rect x="856.83" y="255.36" width="53.72" height="13.32" fill="#57bcc3"/>
<rect x="910.25" y="255.36" width="27.01" height="13.32" fill="#35a7c4"/>
<rect x="936.96" y="255.36" width="53.72" height="13.32" fill="#57bcc3"/>
<rect x="990.38" y="255.36" width="27.01" height="13.32" fill="#86cfbb"/>
<rect x="1017.08" y="255.36" width="27.01" height="13.32" fill="#57bcc3"/>
<rect x="1043.79" y="255.36" width="27.01" height="13.32" fill="#86cfbb"/>
<rect x="750" y="268.38" width="133.84" height="13.32" fill="#57bcc3"/>
<rect x="883.54" y="268.38" width="27.01" height="13.32" fill="#35a7c4"/>
<rect x="910.25" y="268.38" width="27.01" height="13.32" fill="#1f8dbe"/>
<rect x="936.96" y="268.38" width="53.72" height="13.32" fill="#35a7c4"/>
<rect x="990.38" y="268.38" width="80.42" height="13.32" fill="#57bcc3"/>
<g stroke="#fff" stroke-opacity="0.14" stroke-width="0.7">
<line x1="776.71" y1="21" x2="776.71" y2="281.4"/>
<line x1="803.42" y1="21" x2="803.42" y2="281.4"/>
<line x1="830.12" y1="21" x2="830.12" y2="281.4"/>
<line x1="856.83" y1="21" x2="856.83" y2="281.4"/>
<line x1="883.54" y1="21" x2="883.54" y2="281.4"/>
<line x1="910.25" y1="21" x2="910.25" y2="281.4"/>
<line x1="936.96" y1="21" x2="936.96" y2="281.4"/>
<line x1="963.67" y1="21" x2="963.67" y2="281.4"/>
<line x1="990.38" y1="21" x2="990.38" y2="281.4"/>
<line x1="1017.08" y1="21" x2="1017.08" y2="281.4"/>
<line x1="1043.79" y1="21" x2="1043.79" y2="281.4"/>
<line x1="750" y1="34.02" x2="1070.5" y2="34.02"/>
<line x1="750" y1="47.04" x2="1070.5" y2="47.04"/>
<line x1="750" y1="60.06" x2="1070.5" y2="60.06"/>
<line x1="750" y1="73.08" x2="1070.5" y2="73.08"/>
<line x1="750" y1="86.1" x2="1070.5" y2="86.1"/>
<line x1="750" y1="99.12" x2="1070.5" y2="99.12"/>
<line x1="750" y1="112.14" x2="1070.5" y2="112.14"/>
<line x1="750" y1="125.16" x2="1070.5" y2="125.16"/>
<line x1="750" y1="138.18" x2="1070.5" y2="138.18"/>
<line x1="750" y1="151.2" x2="1070.5" y2="151.2"/>
<line x1="750" y1="164.22" x2="1070.5" y2="164.22"/>
<line x1="750" y1="177.24" x2="1070.5" y2="177.24"/>
<line x1="750" y1="190.26" x2="1070.5" y2="190.26"/>
<line x1="750" y1="203.28" x2="1070.5" y2="203.28"/>
<line x1="750" y1="216.3" x2="1070.5" y2="216.3"/>
<line x1="750" y1="229.32" x2="1070.5" y2="229.32"/>
<line x1="750" y1="242.34" x2="1070.5" y2="242.34"/>
<line x1="750" y1="255.36" x2="1070.5" y2="255.36"/>
<line x1="750" y1="268.38" x2="1070.5" y2="268.38"/>
</g>
<clipPath id="hf1">
<rect x="750" y="268.38" width="26.71" height="13.02"/>
<rect x="776.71" y="73.08" width="26.71" height="26.04"/>
<rect x="776.71" y="112.14" width="26.71" height="156.24"/>
<rect x="803.42" y="47.04" width="26.71" height="208.32"/>
<rect x="830.12" y="21" width="26.71" height="195.3"/>
<rect x="856.83" y="21" width="26.71" height="156.24"/>
<rect x="883.54" y="34.02" width="26.71" height="52.08"/>
<rect x="883.54" y="99.12" width="26.71" height="13.02"/>
</clipPath>
<clipPath id="hb1">
<rect x="750" y="190.26" width="26.71" height="91.14"/>
<rect x="776.71" y="164.22" width="26.71" height="117.18"/>
<rect x="803.42" y="112.14" width="26.71" height="169.26"/>
<rect x="830.12" y="47.04" width="26.71" height="143.22"/>
<rect x="856.83" y="47.04" width="26.71" height="117.18"/>
<rect x="883.54" y="21" width="26.71" height="91.14"/>
<rect x="910.25" y="21" width="26.71" height="26.04"/>
<rect x="936.96" y="21" width="26.71" height="26.04"/>
</clipPath>
<g clip-path="url(#hf1)" stroke="#fff" stroke-width="1.2" stroke-linecap="butt">
<line x1="763.1" y1="21" x2="497.7" y2="286.4"/>
<line x1="790.6" y1="21" x2="525.2" y2="286.4"/>
<line x1="818.1" y1="21" x2="552.7" y2="286.4"/>
<line x1="845.6" y1="21" x2="580.2" y2="286.4"/>
<line x1="873.1" y1="21" x2="607.7" y2="286.4"/>
<line x1="900.6" y1="21" x2="635.2" y2="286.4"/>
<line x1="928.1" y1="21" x2="662.7" y2="286.4"/>
<line x1="955.6" y1="21" x2="690.2" y2="286.4"/>
<line x1="983.1" y1="21" x2="717.7" y2="286.4"/>
<line x1="1010.6" y1="21" x2="745.2" y2="286.4"/>
<line x1="1038.1" y1="21" x2="772.7" y2="286.4"/>
<line x1="1065.6" y1="21" x2="800.2" y2="286.4"/>
<line x1="1093.1" y1="21" x2="827.7" y2="286.4"/>
<line x1="1120.6" y1="21" x2="855.2" y2="286.4"/>
<line x1="1148.1" y1="21" x2="882.7" y2="286.4"/>
<line x1="1175.6" y1="21" x2="910.2" y2="286.4"/>
<line x1="1203.1" y1="21" x2="937.7" y2="286.4"/>
<line x1="1230.6" y1="21" x2="965.2" y2="286.4"/>
<line x1="1258.1" y1="21" x2="992.7" y2="286.4"/>
<line x1="1285.6" y1="21" x2="1020.2" y2="286.4"/>
<line x1="1313.1" y1="21" x2="1047.7" y2="286.4"/>
</g>
<g clip-path="url(#hb1)" stroke="#fff" stroke-width="1.2" stroke-linecap="butt">
<line x1="433.9" y1="21" x2="699.3" y2="286.4"/>
<line x1="461.4" y1="21" x2="726.8" y2="286.4"/>
<line x1="488.9" y1="21" x2="754.3" y2="286.4"/>
<line x1="516.4" y1="21" x2="781.8" y2="286.4"/>
<line x1="543.9" y1="21" x2="809.3" y2="286.4"/>
<line x1="571.4" y1="21" x2="836.8" y2="286.4"/>
<line x1="598.9" y1="21" x2="864.3" y2="286.4"/>
<line x1="626.4" y1="21" x2="891.8" y2="286.4"/>
<line x1="653.9" y1="21" x2="919.3" y2="286.4"/>
<line x1="681.4" y1="21" x2="946.8" y2="286.4"/>
<line x1="708.9" y1="21" x2="974.3" y2="286.4"/>
<line x1="736.4" y1="21" x2="1001.8" y2="286.4"/>
<line x1="763.9" y1="21" x2="1029.3" y2="286.4"/>
<line x1="791.4" y1="21" x2="1056.8" y2="286.4"/>
<line x1="818.9" y1="21" x2="1084.3" y2="286.4"/>
<line x1="846.4" y1="21" x2="1111.8" y2="286.4"/>
<line x1="873.9" y1="21" x2="1139.3" y2="286.4"/>
<line x1="901.4" y1="21" x2="1166.8" y2="286.4"/>
<line x1="928.9" y1="21" x2="1194.3" y2="286.4"/>
<line x1="956.4" y1="21" x2="1221.8" y2="286.4"/>
<line x1="983.9" y1="21" x2="1249.3" y2="286.4"/>
<line x1="1011.4" y1="21" x2="1276.8" y2="286.4"/>
<line x1="1038.9" y1="21" x2="1304.3" y2="286.4"/>
<line x1="1066.4" y1="21" x2="1331.8" y2="286.4"/>
</g>
<rect x="750" y="21" width="320.5" height="260.4" fill="none" stroke="#444" stroke-width="0.8"/>
<ellipse cx="883.8" cy="86.3" rx="73" ry="42" transform="rotate(-35 883.8 86.3)" fill="none" stroke="#000" stroke-width="2.2"/>
<line x1="743.6" y1="34.3" x2="750" y2="34.3" stroke="#555" stroke-width="0.7"/>
<text transform="translate(737.7 38.3) scale(1.035 1)" font-size="12.5" text-anchor="end">2.00</text>
<line x1="743.6" y1="56.3" x2="750" y2="56.3" stroke="#555" stroke-width="0.7"/>
<text transform="translate(737.7 60.3) scale(0.960 1)" font-size="12.5" text-anchor="end">1.50</text>
<line x1="743.6" y1="103.4" x2="750" y2="103.4" stroke="#555" stroke-width="0.7"/>
<text transform="translate(737.7 107.4) scale(0.960 1)" font-size="12.5" text-anchor="end">1.00</text>
<line x1="743.6" y1="149.5" x2="750" y2="149.5" stroke="#555" stroke-width="0.7"/>
<text transform="translate(737.7 153.5) scale(1.035 1)" font-size="12.5" text-anchor="end">0.65</text>
<line x1="743.6" y1="227.1" x2="750" y2="227.1" stroke="#555" stroke-width="0.7"/>
<text transform="translate(737.7 231.1) scale(1.035 1)" font-size="12.5" text-anchor="end">0.20</text>
<text transform="translate(703.7,151.7) rotate(-90) scale(1.0 1)" font-size="14.3" text-anchor="middle">Aridity index</text>
<text transform="translate(762.55 296.6) scale(0.769 1)" font-size="11.46" text-anchor="middle">1</text>
<text transform="translate(789.26 296.6) scale(1.030 1)" font-size="11.46" text-anchor="middle">2</text>
<text transform="translate(815.97 296.6) scale(1.030 1)" font-size="11.46" text-anchor="middle">3</text>
<text transform="translate(842.68 296.6) scale(1.030 1)" font-size="11.46" text-anchor="middle">4</text>
<text transform="translate(869.39 296.6) scale(1.030 1)" font-size="11.46" text-anchor="middle">5</text>
<text transform="translate(896.1 296.6) scale(1.030 1)" font-size="11.46" text-anchor="middle">6</text>
<text transform="translate(922.8 296.6) scale(1.030 1)" font-size="11.46" text-anchor="middle">7</text>
<text transform="translate(949.51 296.6) scale(1.030 1)" font-size="11.46" text-anchor="middle">8</text>
<text transform="translate(976.22 296.6) scale(1.030 1)" font-size="11.46" text-anchor="middle">9</text>
<text transform="translate(1002.93 296.6) scale(0.899 1)" font-size="11.46" text-anchor="middle">10</text>
<text transform="translate(1029.64 296.6) scale(0.769 1)" font-size="11.46" text-anchor="middle">11</text>
<text transform="translate(1056.35 296.6) scale(0.899 1)" font-size="11.46" text-anchor="middle">12</text>
<text transform="translate(758.3 314.3) scale(1.020 1)" font-size="14" text-anchor="start"><tspan font-size="13.24" style="font-family:DejaVu Sans,sans-serif;stroke-width:0.1px">↑ </tspan><tspan x="12.84">Wettest month</tspan></text>
<text transform="translate(894.5 314.3) scale(1.030 1)" font-size="14" text-anchor="start">Months</text>
<text transform="translate(691.6 15.6) scale(1.050 1)" font-size="19" text-anchor="start" font-weight="bold" style="stroke-width:1px;fill:#111;stroke:#111">c</text>
<rect x="750" y="381" width="320.8" height="13.32" fill="#1f2a80"/>
<rect x="750" y="394.02" width="320.8" height="13.32" fill="#24459c"/>
<rect x="750" y="407.04" width="53.72" height="13.32" fill="#24459c"/>
<rect x="803.42" y="407.04" width="133.84" height="13.32" fill="#2166ac"/>
<rect x="936.96" y="407.04" width="133.84" height="13.32" fill="#24459c"/>
<rect x="750" y="420.06" width="53.72" height="13.32" fill="#24459c"/>
<rect x="803.42" y="420.06" width="160.55" height="13.32" fill="#2166ac"/>
<rect x="963.67" y="420.06" width="107.13" height="13.32" fill="#24459c"/>
<rect x="750" y="433.08" width="53.72" height="13.32" fill="#24459c"/>
<rect x="803.42" y="433.08" width="213.97" height="13.32" fill="#2166ac"/>
<rect x="1017.08" y="433.08" width="53.72" height="13.32" fill="#24459c"/>
<rect x="750" y="446.1" width="80.42" height="13.32" fill="#2166ac"/>
<rect x="830.12" y="446.1" width="187.26" height="13.32" fill="#1f8dbe"/>
<rect x="1017.08" y="446.1" width="53.72" height="13.32" fill="#2166ac"/>
<rect x="750" y="459.12" width="27.01" height="13.32" fill="#2166ac"/>
<rect x="776.71" y="459.12" width="80.42" height="13.32" fill="#1f8dbe"/>
<rect x="856.83" y="459.12" width="133.84" height="13.32" fill="#35a7c4"/>
<rect x="990.38" y="459.12" width="80.42" height="13.32" fill="#1f8dbe"/>
<rect x="750" y="472.14" width="80.42" height="13.32" fill="#1f8dbe"/>
<rect x="830.12" y="472.14" width="187.26" height="13.32" fill="#35a7c4"/>
<rect x="1017.08" y="472.14" width="53.72" height="13.32" fill="#1f8dbe"/>
<rect x="750" y="485.16" width="53.72" height="13.32" fill="#1f8dbe"/>
<rect x="803.42" y="485.16" width="107.13" height="13.32" fill="#35a7c4"/>
<rect x="910.25" y="485.16" width="80.42" height="13.32" fill="#57bcc3"/>
<rect x="990.38" y="485.16" width="53.72" height="13.32" fill="#35a7c4"/>
<rect x="1043.79" y="485.16" width="27.01" height="13.32" fill="#1f8dbe"/>
<rect x="750" y="498.18" width="80.42" height="13.32" fill="#1f8dbe"/>
<rect x="830.12" y="498.18" width="27.01" height="13.32" fill="#35a7c4"/>
<rect x="856.83" y="498.18" width="133.84" height="13.32" fill="#57bcc3"/>
<rect x="990.38" y="498.18" width="53.72" height="13.32" fill="#35a7c4"/>
<rect x="1043.79" y="498.18" width="27.01" height="13.32" fill="#1f8dbe"/>
<rect x="750" y="511.2" width="53.72" height="13.32" fill="#1f8dbe"/>
<rect x="803.42" y="511.2" width="27.01" height="13.32" fill="#35a7c4"/>
<rect x="830.12" y="511.2" width="27.01" height="13.32" fill="#57bcc3"/>
<rect x="856.83" y="511.2" width="80.42" height="13.32" fill="#86cfbb"/>
<rect x="936.96" y="511.2" width="80.42" height="13.32" fill="#57bcc3"/>
<rect x="1017.08" y="511.2" width="53.72" height="13.32" fill="#35a7c4"/>
<rect x="750" y="524.22" width="53.72" height="13.32" fill="#35a7c4"/>
<rect x="803.42" y="524.22" width="27.01" height="13.32" fill="#57bcc3"/>
<rect x="830.12" y="524.22" width="53.72" height="13.32" fill="#86cfbb"/>
<rect x="883.54" y="524.22" width="53.72" height="13.32" fill="#b8e3b6"/>
<rect x="936.96" y="524.22" width="53.72" height="13.32" fill="#86cfbb"/>
<rect x="990.38" y="524.22" width="80.42" height="13.32" fill="#57bcc3"/>
<rect x="750" y="537.24" width="53.72" height="13.32" fill="#57bcc3"/>
<rect x="803.42" y="537.24" width="53.72" height="13.32" fill="#86cfbb"/>
<rect x="856.83" y="537.24" width="80.42" height="13.32" fill="#b8e3b6"/>
<rect x="936.96" y="537.24" width="53.72" height="13.32" fill="#86cfbb"/>
<rect x="990.38" y="537.24" width="80.42" height="13.32" fill="#57bcc3"/>
<rect x="750" y="550.26" width="27.01" height="13.32" fill="#57bcc3"/>
<rect x="776.71" y="550.26" width="27.01" height="13.32" fill="#86cfbb"/>
<rect x="803.42" y="550.26" width="133.84" height="13.32" fill="#b8e3b6"/>
<rect x="936.96" y="550.26" width="53.72" height="13.32" fill="#86cfbb"/>
<rect x="990.38" y="550.26" width="80.42" height="13.32" fill="#57bcc3"/>
<rect x="750" y="563.28" width="27.01" height="13.32" fill="#86cfbb"/>
<rect x="776.71" y="563.28" width="160.55" height="13.32" fill="#b8e3b6"/>
<rect x="936.96" y="563.28" width="53.72" height="13.32" fill="#86cfbb"/>
<rect x="990.38" y="563.28" width="27.01" height="13.32" fill="#57bcc3"/>
<rect x="1017.08" y="563.28" width="53.72" height="13.32" fill="#86cfbb"/>
<rect x="750" y="576.3" width="53.72" height="13.32" fill="#b8e3b6"/>
<rect x="803.42" y="576.3" width="27.01" height="13.32" fill="#dcf1b2"/>
<rect x="830.12" y="576.3" width="53.72" height="13.32" fill="#b8e3b6"/>
<rect x="883.54" y="576.3" width="80.42" height="13.32" fill="#86cfbb"/>
<rect x="963.67" y="576.3" width="80.42" height="13.32" fill="#57bcc3"/>
<rect x="1043.79" y="576.3" width="27.01" height="13.32" fill="#86cfbb"/>
<rect x="750" y="589.32" width="53.72" height="13.32" fill="#b8e3b6"/>
<rect x="803.42" y="589.32" width="27.01" height="13.32" fill="#dcf1b2"/>
<rect x="830.12" y="589.32" width="53.72" height="13.32" fill="#b8e3b6"/>
<rect x="883.54" y="589.32" width="80.42" height="13.32" fill="#86cfbb"/>
<rect x="963.67" y="589.32" width="80.42" height="13.32" fill="#57bcc3"/>
<rect x="1043.79" y="589.32" width="27.01" height="13.32" fill="#86cfbb"/>
<rect x="750" y="602.34" width="107.13" height="13.32" fill="#b8e3b6"/>
<rect x="856.83" y="602.34" width="80.42" height="13.32" fill="#86cfbb"/>
<rect x="936.96" y="602.34" width="80.42" height="13.32" fill="#57bcc3"/>
<rect x="1017.08" y="602.34" width="53.72" height="13.32" fill="#86cfbb"/>
<rect x="750" y="615.36" width="107.13" height="13.32" fill="#86cfbb"/>
<rect x="856.83" y="615.36" width="80.42" height="13.32" fill="#57bcc3"/>
<rect x="936.96" y="615.36" width="27.01" height="13.32" fill="#35a7c4"/>
<rect x="963.67" y="615.36" width="53.72" height="13.32" fill="#57bcc3"/>
<rect x="1017.08" y="615.36" width="53.72" height="13.32" fill="#86cfbb"/>
<rect x="750" y="628.38" width="133.84" height="13.32" fill="#57bcc3"/>
<rect x="883.54" y="628.38" width="107.13" height="13.32" fill="#35a7c4"/>
<rect x="990.38" y="628.38" width="80.42" height="13.32" fill="#57bcc3"/>
<g stroke="#fff" stroke-opacity="0.14" stroke-width="0.7">
<line x1="776.71" y1="381" x2="776.71" y2="641.4"/>
<line x1="803.42" y1="381" x2="803.42" y2="641.4"/>
<line x1="830.12" y1="381" x2="830.12" y2="641.4"/>
<line x1="856.83" y1="381" x2="856.83" y2="641.4"/>
<line x1="883.54" y1="381" x2="883.54" y2="641.4"/>
<line x1="910.25" y1="381" x2="910.25" y2="641.4"/>
<line x1="936.96" y1="381" x2="936.96" y2="641.4"/>
<line x1="963.67" y1="381" x2="963.67" y2="641.4"/>
<line x1="990.38" y1="381" x2="990.38" y2="641.4"/>
<line x1="1017.08" y1="381" x2="1017.08" y2="641.4"/>
<line x1="1043.79" y1="381" x2="1043.79" y2="641.4"/>
<line x1="750" y1="394.02" x2="1070.5" y2="394.02"/>
<line x1="750" y1="407.04" x2="1070.5" y2="407.04"/>
<line x1="750" y1="420.06" x2="1070.5" y2="420.06"/>
<line x1="750" y1="433.08" x2="1070.5" y2="433.08"/>
<line x1="750" y1="446.1" x2="1070.5" y2="446.1"/>
<line x1="750" y1="459.12" x2="1070.5" y2="459.12"/>
<line x1="750" y1="472.14" x2="1070.5" y2="472.14"/>
<line x1="750" y1="485.16" x2="1070.5" y2="485.16"/>
<line x1="750" y1="498.18" x2="1070.5" y2="498.18"/>
<line x1="750" y1="511.2" x2="1070.5" y2="511.2"/>
<line x1="750" y1="524.22" x2="1070.5" y2="524.22"/>
<line x1="750" y1="537.24" x2="1070.5" y2="537.24"/>
<line x1="750" y1="550.26" x2="1070.5" y2="550.26"/>
<line x1="750" y1="563.28" x2="1070.5" y2="563.28"/>
<line x1="750" y1="576.3" x2="1070.5" y2="576.3"/>
<line x1="750" y1="589.32" x2="1070.5" y2="589.32"/>
<line x1="750" y1="602.34" x2="1070.5" y2="602.34"/>
<line x1="750" y1="615.36" x2="1070.5" y2="615.36"/>
<line x1="750" y1="628.38" x2="1070.5" y2="628.38"/>
</g>
<clipPath id="hf2">
<rect x="750" y="381" width="26.71" height="260.4"/>
<rect x="776.71" y="381" width="26.71" height="247.38"/>
<rect x="803.42" y="407.04" width="26.71" height="208.32"/>
<rect x="830.12" y="524.22" width="26.71" height="13.02"/>
</clipPath>
<clipPath id="hb2">
<rect x="750" y="381" width="26.71" height="13.02"/>
<rect x="750" y="498.18" width="26.71" height="143.22"/>
<rect x="776.71" y="381" width="26.71" height="260.4"/>
<rect x="803.42" y="381" width="26.71" height="156.24"/>
<rect x="803.42" y="615.36" width="26.71" height="26.04"/>
<rect x="830.12" y="394.02" width="26.71" height="104.16"/>
<rect x="1043.79" y="550.26" width="26.71" height="65.1"/>
</clipPath>
<g clip-path="url(#hf2)" stroke="#fff" stroke-width="1.2" stroke-linecap="butt">
<line x1="763.1" y1="381" x2="497.7" y2="646.4"/>
<line x1="790.6" y1="381" x2="525.2" y2="646.4"/>
<line x1="818.1" y1="381" x2="552.7" y2="646.4"/>
<line x1="845.6" y1="381" x2="580.2" y2="646.4"/>
<line x1="873.1" y1="381" x2="607.7" y2="646.4"/>
<line x1="900.6" y1="381" x2="635.2" y2="646.4"/>
<line x1="928.1" y1="381" x2="662.7" y2="646.4"/>
<line x1="955.6" y1="381" x2="690.2" y2="646.4"/>
<line x1="983.1" y1="381" x2="717.7" y2="646.4"/>
<line x1="1010.6" y1="381" x2="745.2" y2="646.4"/>
<line x1="1038.1" y1="381" x2="772.7" y2="646.4"/>
<line x1="1065.6" y1="381" x2="800.2" y2="646.4"/>
<line x1="1093.1" y1="381" x2="827.7" y2="646.4"/>
<line x1="1120.6" y1="381" x2="855.2" y2="646.4"/>
<line x1="1148.1" y1="381" x2="882.7" y2="646.4"/>
<line x1="1175.6" y1="381" x2="910.2" y2="646.4"/>
<line x1="1203.1" y1="381" x2="937.7" y2="646.4"/>
<line x1="1230.6" y1="381" x2="965.2" y2="646.4"/>
<line x1="1258.1" y1="381" x2="992.7" y2="646.4"/>
<line x1="1285.6" y1="381" x2="1020.2" y2="646.4"/>
<line x1="1313.1" y1="381" x2="1047.7" y2="646.4"/>
</g>
<g clip-path="url(#hb2)" stroke="#fff" stroke-width="1.2" stroke-linecap="butt">
<line x1="433.9" y1="381" x2="699.3" y2="646.4"/>
<line x1="461.4" y1="381" x2="726.8" y2="646.4"/>
<line x1="488.9" y1="381" x2="754.3" y2="646.4"/>
<line x1="516.4" y1="381" x2="781.8" y2="646.4"/>
<line x1="543.9" y1="381" x2="809.3" y2="646.4"/>
<line x1="571.4" y1="381" x2="836.8" y2="646.4"/>
<line x1="598.9" y1="381" x2="864.3" y2="646.4"/>
<line x1="626.4" y1="381" x2="891.8" y2="646.4"/>
<line x1="653.9" y1="381" x2="919.3" y2="646.4"/>
<line x1="681.4" y1="381" x2="946.8" y2="646.4"/>
<line x1="708.9" y1="381" x2="974.3" y2="646.4"/>
<line x1="736.4" y1="381" x2="1001.8" y2="646.4"/>
<line x1="763.9" y1="381" x2="1029.3" y2="646.4"/>
<line x1="791.4" y1="381" x2="1056.8" y2="646.4"/>
<line x1="818.9" y1="381" x2="1084.3" y2="646.4"/>
<line x1="846.4" y1="381" x2="1111.8" y2="646.4"/>
<line x1="873.9" y1="381" x2="1139.3" y2="646.4"/>
<line x1="901.4" y1="381" x2="1166.8" y2="646.4"/>
<line x1="928.9" y1="381" x2="1194.3" y2="646.4"/>
<line x1="956.4" y1="381" x2="1221.8" y2="646.4"/>
<line x1="983.9" y1="381" x2="1249.3" y2="646.4"/>
<line x1="1011.4" y1="381" x2="1276.8" y2="646.4"/>
<line x1="1038.9" y1="381" x2="1304.3" y2="646.4"/>
<line x1="1066.4" y1="381" x2="1331.8" y2="646.4"/>
</g>
<rect x="750" y="381" width="320.5" height="260.4" fill="none" stroke="#444" stroke-width="0.8"/>
<ellipse cx="789.8" cy="575.3" rx="37.6" ry="63.3" transform="rotate(0 789.8 575.3)" fill="none" stroke="#000" stroke-width="2.2"/>
<line x1="743.6" y1="394.3" x2="750" y2="394.3" stroke="#555" stroke-width="0.7"/>
<text transform="translate(737.7 398.3) scale(1.035 1)" font-size="12.5" text-anchor="end">2.00</text>
<line x1="743.6" y1="416.3" x2="750" y2="416.3" stroke="#555" stroke-width="0.7"/>
<text transform="translate(737.7 420.3) scale(0.960 1)" font-size="12.5" text-anchor="end">1.50</text>
<line x1="743.6" y1="463.4" x2="750" y2="463.4" stroke="#555" stroke-width="0.7"/>
<text transform="translate(737.7 467.4) scale(0.960 1)" font-size="12.5" text-anchor="end">1.00</text>
<line x1="743.6" y1="509.5" x2="750" y2="509.5" stroke="#555" stroke-width="0.7"/>
<text transform="translate(737.7 513.5) scale(1.035 1)" font-size="12.5" text-anchor="end">0.65</text>
<line x1="743.6" y1="587.1" x2="750" y2="587.1" stroke="#555" stroke-width="0.7"/>
<text transform="translate(737.7 591.1) scale(1.035 1)" font-size="12.5" text-anchor="end">0.20</text>
<text transform="translate(703.7,511.7) rotate(-90) scale(1.0 1)" font-size="14.3" text-anchor="middle">Aridity index</text>
<text transform="translate(762.55 658.5) scale(0.746 1)" font-size="14.58" text-anchor="middle">1</text>
<text transform="translate(789.26 658.5) scale(1.000 1)" font-size="14.58" text-anchor="middle">2</text>
<text transform="translate(815.97 658.5) scale(1.000 1)" font-size="14.58" text-anchor="middle">3</text>
<text transform="translate(842.68 658.5) scale(1.000 1)" font-size="14.58" text-anchor="middle">4</text>
<text transform="translate(869.39 658.5) scale(1.000 1)" font-size="14.58" text-anchor="middle">5</text>
<text transform="translate(896.1 658.5) scale(1.000 1)" font-size="14.58" text-anchor="middle">6</text>
<text transform="translate(922.8 658.5) scale(1.000 1)" font-size="14.58" text-anchor="middle">7</text>
<text transform="translate(949.51 658.5) scale(1.000 1)" font-size="14.58" text-anchor="middle">8</text>
<text transform="translate(976.22 658.5) scale(1.000 1)" font-size="14.58" text-anchor="middle">9</text>
<text transform="translate(1002.93 658.5) scale(0.873 1)" font-size="14.58" text-anchor="middle">10</text>
<text transform="translate(1029.64 658.5) scale(0.746 1)" font-size="14.58" text-anchor="middle">11</text>
<text transform="translate(1056.35 658.5) scale(0.873 1)" font-size="14.58" text-anchor="middle">12</text>
<text transform="translate(758.3 674.3) scale(1.020 1)" font-size="14" text-anchor="start"><tspan font-size="13.24" style="font-family:DejaVu Sans,sans-serif;stroke-width:0.1px">↑ </tspan><tspan x="12.84">Greenest month</tspan></text>
<text transform="translate(905.7 674.3) scale(1.030 1)" font-size="14" text-anchor="start">Months</text>
<text transform="translate(691.6 375.1) scale(1.050 1)" font-size="19" text-anchor="start" font-weight="bold" style="stroke-width:1px;fill:#111;stroke:#111">d</text>
</svg></body></html>
